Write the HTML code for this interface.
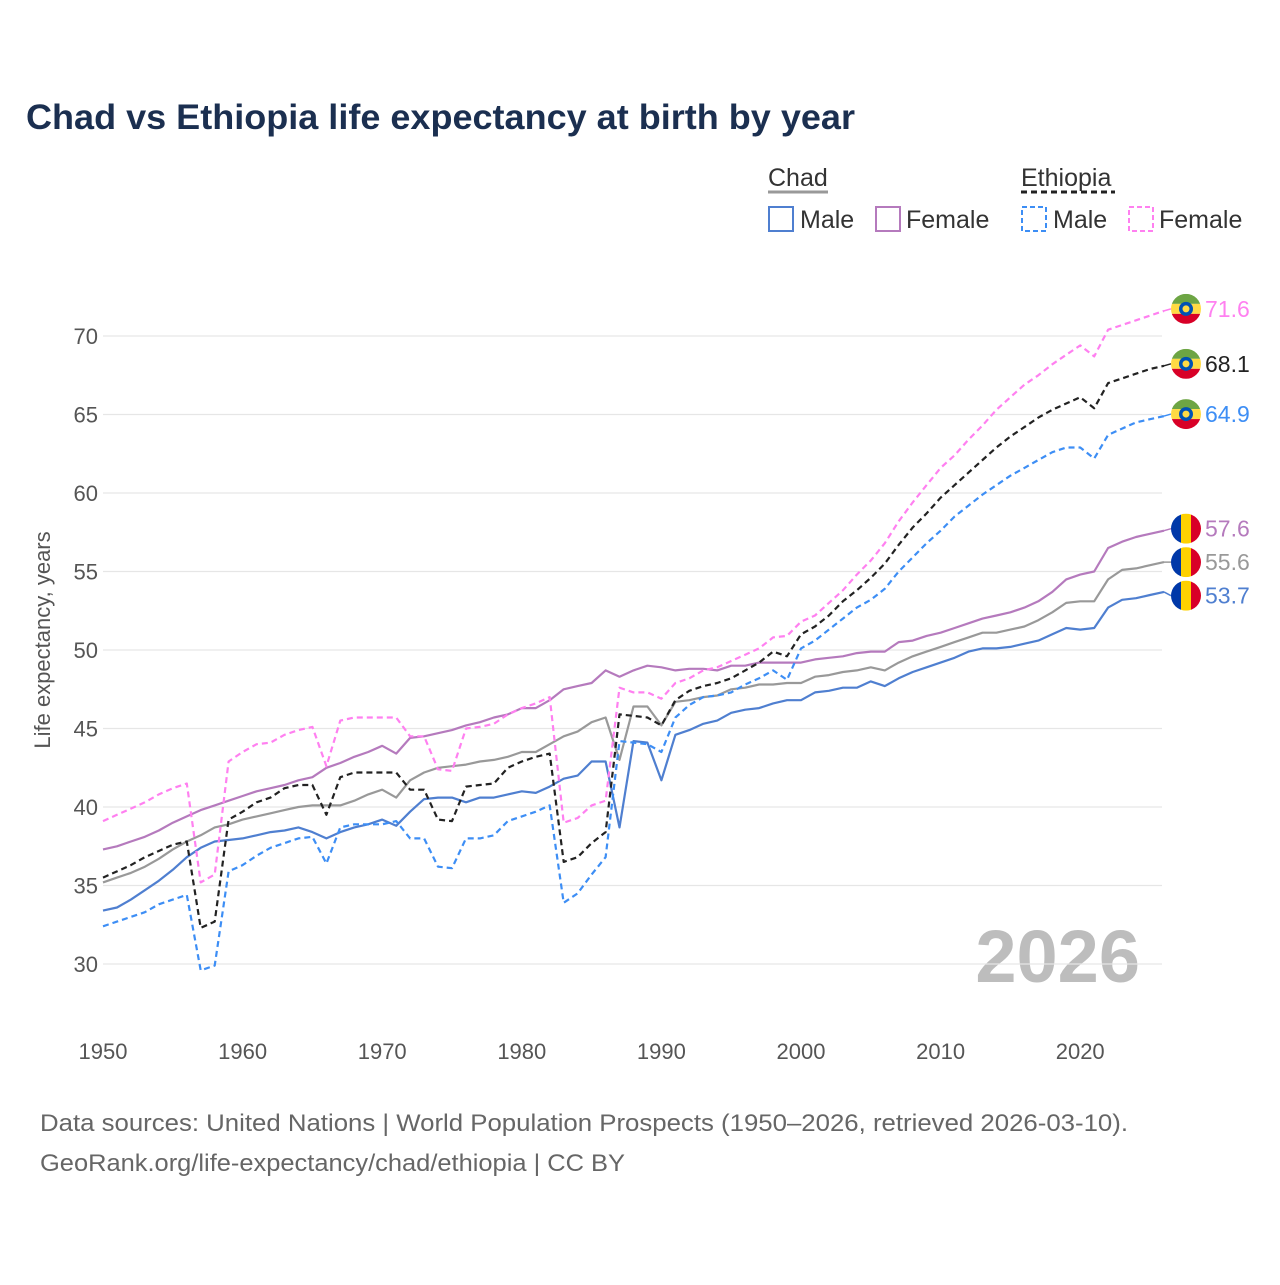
<!DOCTYPE html>
<html><head><meta charset="utf-8">
<style>
body{margin:0;background:#fff;}
svg text{font-family:"Liberation Sans",sans-serif;}
</style></head>
<body>
<svg id="chart" width="1280" height="1280" viewBox="0 0 1280 1280" xmlns="http://www.w3.org/2000/svg">
<rect width="1280" height="1280" fill="#fff"/>
<text x="26" y="129" font-size="35" font-weight="bold" fill="#1b2f50" textLength="829" lengthAdjust="spacingAndGlyphs">Chad vs Ethiopia life expectancy at birth by year</text>
<g font-size="25">
  <text x="768" y="186" fill="#333">Chad</text>
  <line x1="768" y1="192" x2="828" y2="192" stroke="#999" stroke-width="3"/>
  <text x="1021" y="186" fill="#333">Ethiopia</text>
  <line x1="1021" y1="192" x2="1115" y2="192" stroke="#222" stroke-width="3" stroke-dasharray="6,4"/>
  <g><rect x="769" y="207" width="24" height="24" fill="none" stroke="#4f7fd0" stroke-width="2"/><text x="800" y="228" fill="#333">Male</text></g>
  <g><rect x="876" y="207" width="24" height="24" fill="none" stroke="#b57abd" stroke-width="2"/><text x="906" y="228" fill="#333">Female</text></g>
  <g><rect x="1022" y="207" width="24" height="24" fill="none" stroke="#3d8ef5" stroke-width="2" stroke-dasharray="5,3"/><text x="1053" y="228" fill="#333">Male</text></g>
  <g><rect x="1129" y="207" width="24" height="24" fill="none" stroke="#ff80f0" stroke-width="2" stroke-dasharray="5,3"/><text x="1159" y="228" fill="#333">Female</text></g>
</g>
<text transform="translate(50,640) rotate(-90)" text-anchor="middle" font-size="22" fill="#555">Life expectancy, years</text>
<text x="1140" y="982" text-anchor="end" font-size="74" font-weight="bold" fill="#bdbdbd">2026</text>
<g id="plot"></g>
<text x="40" y="1131" font-size="24" fill="#666" textLength="1088" lengthAdjust="spacingAndGlyphs">Data sources: United Nations | World Population Prospects (1950–2026, retrieved 2026-03-10).</text>
<text x="40" y="1171" font-size="24" fill="#666" textLength="585" lengthAdjust="spacingAndGlyphs">GeoRank.org/life-expectancy/chad/ethiopia | CC BY</text>
</svg>
<script>
const startYear = 1950;
const yTicks = [30,35,40,45,50,55,60,65,70];
const xTicks = [1950,1960,1970,1980,1990,2000,2010,2020];
const chadMale = [33.4,33.6,34.1,34.7,35.3,36.0,36.8,37.4,37.8,37.9,38.0,38.2,38.4,38.5,38.7,38.4,38.0,38.4,38.7,38.9,39.2,38.8,39.7,40.5,40.6,40.6,40.3,40.6,40.6,40.8,41.0,40.9,41.3,41.8,42.0,42.9,42.9,38.7,44.2,44.1,41.7,44.6,44.9,45.3,45.5,46.0,46.2,46.3,46.6,46.8,46.8,47.3,47.4,47.6,47.6,48.0,47.7,48.2,48.6,48.9,49.2,49.5,49.9,50.1,50.1,50.2,50.4,50.6,51.0,51.4,51.3,51.4,52.7,53.2,53.3,53.5,53.7];
const chadTotal = [35.2,35.5,35.8,36.2,36.7,37.3,37.8,38.2,38.7,38.9,39.2,39.4,39.6,39.8,40.0,40.1,40.1,40.1,40.4,40.8,41.1,40.6,41.7,42.2,42.5,42.6,42.7,42.9,43.0,43.2,43.5,43.5,44.0,44.5,44.8,45.4,45.7,43.0,46.4,46.4,45.2,46.7,46.8,47.0,47.1,47.5,47.6,47.8,47.8,47.9,47.9,48.3,48.4,48.6,48.7,48.9,48.7,49.2,49.6,49.9,50.2,50.5,50.8,51.1,51.1,51.3,51.5,51.9,52.4,53.0,53.1,53.1,54.5,55.1,55.2,55.4,55.6];
const chadFemale = [37.3,37.5,37.8,38.1,38.5,39.0,39.4,39.8,40.1,40.4,40.7,41.0,41.2,41.4,41.7,41.9,42.5,42.8,43.2,43.5,43.9,43.4,44.4,44.5,44.7,44.9,45.2,45.4,45.7,45.9,46.3,46.3,46.8,47.5,47.7,47.9,48.7,48.3,48.7,49.0,48.9,48.7,48.8,48.8,48.7,49.0,49.0,49.2,49.2,49.2,49.2,49.4,49.5,49.6,49.8,49.9,49.9,50.5,50.6,50.9,51.1,51.4,51.7,52.0,52.2,52.4,52.7,53.1,53.7,54.5,54.8,55.0,56.5,56.9,57.2,57.4,57.6];
const ethTotal = [35.5,35.9,36.3,36.8,37.2,37.6,37.8,32.3,32.7,39.2,39.7,40.3,40.6,41.2,41.4,41.4,39.5,41.9,42.2,42.2,42.2,42.2,41.1,41.1,39.2,39.1,41.3,41.4,41.5,42.5,42.9,43.2,43.4,36.5,36.8,37.7,38.4,45.9,45.8,45.7,45.2,46.8,47.4,47.7,47.9,48.2,48.7,49.2,49.9,49.6,51.0,51.5,52.2,53.1,53.8,54.6,55.5,56.7,57.8,58.7,59.7,60.5,61.3,62.1,62.9,63.6,64.2,64.8,65.3,65.7,66.1,65.4,67.0,67.3,67.6,67.9,68.1];
const ethMale = [32.4,32.7,33.0,33.3,33.8,34.1,34.4,29.6,29.9,35.9,36.3,36.9,37.4,37.7,38.0,38.1,36.4,38.7,38.9,38.9,38.9,39.1,38.0,38.0,36.2,36.1,38.0,38.0,38.2,39.1,39.4,39.7,40.1,33.9,34.5,35.7,36.8,44.2,44.1,44.0,43.5,45.7,46.5,47.0,47.1,47.3,47.8,48.2,48.7,48.1,50.1,50.6,51.3,52.0,52.7,53.2,53.9,55.0,55.9,56.8,57.6,58.5,59.2,59.9,60.5,61.1,61.6,62.1,62.6,62.9,62.9,62.2,63.7,64.1,64.5,64.7,64.9];
const ethFemale = [39.1,39.5,39.9,40.3,40.8,41.2,41.5,35.2,35.7,42.9,43.5,44.0,44.1,44.6,44.9,45.1,42.6,45.5,45.7,45.7,45.7,45.7,44.5,44.5,42.4,42.3,45.0,45.1,45.3,45.9,46.3,46.6,47.0,39.0,39.3,40.1,40.4,47.6,47.3,47.3,46.9,47.9,48.2,48.7,48.9,49.3,49.7,50.1,50.8,50.9,51.8,52.2,53.0,53.8,54.8,55.7,56.8,58.2,59.4,60.5,61.6,62.4,63.4,64.3,65.3,66.1,66.9,67.5,68.2,68.8,69.4,68.7,70.4,70.7,71.0,71.3,71.6];

const NS='http://www.w3.org/2000/svg';
const plot=document.getElementById('plot');
const xS = yr => 103 + (yr-1950)*13.96;
const yS = v => 336 + (70-v)*15.7;
function mk(tag,attrs){const e=document.createElementNS(NS,tag);for(const k in attrs)e.setAttribute(k,attrs[k]);plot.appendChild(e);return e;}

yTicks.forEach(t=>{
  const g=mk('line',{x1:103,x2:1162,y1:yS(t),y2:yS(t),stroke:'#e6e6e6','stroke-width':1.2});
  
  
  const l=mk('text',{x:98,y:yS(t)+8,'text-anchor':'end','font-size':22,fill:'#555'});
  l.textContent=t;
  
  
});
xTicks.forEach(t=>{
  const l=mk('text',{x:xS(t),y:1059,'text-anchor':'middle','font-size':22,fill:'#555'});
  l.textContent=t;
  
  
});

const series=[
  {name:'chad-male',d:chadMale,c:'#4f7fd0',dash:null,flag:'chad'},
  {name:'chad-total',d:chadTotal,c:'#999999',dash:null,flag:'chad'},
  {name:'chad-female',d:chadFemale,c:'#b57abd',dash:null,flag:'chad'},
  {name:'ethiopia-male',d:ethMale,c:'#3d8ef5',dash:'6,4',flag:'eth'},
  {name:'ethiopia-female',d:ethFemale,c:'#ff80f0',dash:'6,4',flag:'eth'},
  {name:'ethiopia-total',d:ethTotal,c:'#222222',dash:'6,4',flag:'eth'}
];
series.forEach(s=>{
  const pts=s.d.map((v,i)=>xS(startYear+i).toFixed(1)+','+yS(v).toFixed(1)).join(' ');
  const a={points:pts,fill:'none',stroke:s.c,'stroke-width':2.2,'stroke-linejoin':'round'};
  if(s.dash)a['stroke-dasharray']=s.dash;
  const p=mk('polyline',a);
  
  
});

const ends=series.map(s=>({s,v:s.d[s.d.length-1],y:yS(s.d[s.d.length-1])})).sort((a,b)=>a.y-b.y);
for(let i=1;i<ends.length;i++){if(ends[i].y-ends[i-1].y<33.5)ends[i].y=ends[i-1].y+33.5;}
ends.forEach(e=>{
  const cx=1186, cy=e.y-2, r=15;
  const lx=xS(2026);
  const conn=mk('line',{x1:lx,y1:yS(e.v),x2:cx-r,y2:cy,stroke:e.s.c,'stroke-width':1.5});
  
  
  const g=document.createElementNS(NS,'g');
  
  
  const id='clip-'+e.s.name;
  let inner='<clipPath id="'+id+'"><circle cx="'+cx+'" cy="'+cy+'" r="'+r+'"/></clipPath><g clip-path="url(#'+id+')">';
  if(e.s.flag==='chad'){
    inner+='<rect x="'+(cx-r)+'" y="'+(cy-r)+'" width="10" height="30" fill="#0038a8"/><rect x="'+(cx-5)+'" y="'+(cy-r)+'" width="10" height="30" fill="#fed100"/><rect x="'+(cx+5)+'" y="'+(cy-r)+'" width="10" height="30" fill="#d80027"/>';
  } else {
    inner+='<rect x="'+(cx-r)+'" y="'+(cy-r)+'" width="30" height="10" fill="#6da544"/><rect x="'+(cx-r)+'" y="'+(cy-5)+'" width="30" height="10" fill="#ffda44"/><rect x="'+(cx-r)+'" y="'+(cy+5)+'" width="30" height="10" fill="#d80027"/><circle cx="'+cx+'" cy="'+cy+'" r="7" fill="#0052b4"/><circle cx="'+cx+'" cy="'+cy+'" r="3.5" fill="#ffda44"/>';
  }
  inner+='</g>';
  g.innerHTML=inner;
  plot.appendChild(g);
  const t=mk('text',{x:1205,y:cy+8,'font-size':23,fill:e.s.c});
  t.textContent=e.v.toFixed(1);
  
  
});
</script>
</body></html>
